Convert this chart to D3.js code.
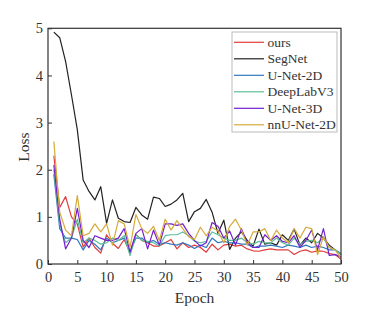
<!DOCTYPE html>
<html><head><meta charset="utf-8">
<script src="https://cdn.jsdelivr.net/npm/d3@7"></script>
<style>
body{margin:0;background:#fff;}
svg text{font-family:"Liberation Serif","Times New Roman",serif;fill:#333;}
</style></head>
<body><svg id="c" width="378" height="320"></svg>
<script>
const epochs = d3.range(1, 51);
const seriesNames = ["ours","SegNet","U-Net-2D","DeepLabV3","U-Net-3D","nnU-Net-2D"];
const colors = ["#e23b3b","#222222","#2f78c0","#5cbf9a","#7420cc","#d6aa38"];
const ours = [2.3,1.2,1.43,1.0,0.85,0.36,0.55,0.35,0.23,0.62,0.44,0.33,0.52,0.24,0.63,0.5,0.45,0.38,0.38,0.45,0.52,0.32,0.45,0.35,0.4,0.35,0.25,0.42,0.3,0.4,0.42,0.38,0.4,0.32,0.28,0.27,0.3,0.32,0.3,0.3,0.3,0.2,0.27,0.3,0.25,0.28,0.27,0.22,0.2,0.1];
const segnet = [4.92,4.8,4.3,3.59,2.85,1.78,1.54,1.36,1.64,0.86,1.36,0.97,0.9,0.88,1.2,1.04,0.95,1.42,1.39,1.22,1.27,1.36,1.5,0.9,1.11,1.18,1.37,1.1,0.65,0.93,0.31,0.55,0.68,0.5,0.38,0.74,0.42,0.45,0.4,0.62,0.5,0.74,0.4,0.55,0.45,0.65,0.55,0.4,0.3,0.2];
const unet2d = [1.9,0.75,0.55,0.55,0.52,0.3,0.5,0.42,0.3,0.55,0.45,0.5,0.55,0.25,0.55,0.55,0.45,0.5,0.42,0.45,0.42,0.4,0.45,0.4,0.33,0.4,0.35,0.55,0.45,0.48,0.45,0.45,0.42,0.42,0.35,0.38,0.38,0.4,0.38,0.35,0.4,0.38,0.35,0.4,0.35,0.38,0.35,0.3,0.3,0.22];
const deeplab = [2.0,0.85,0.45,0.55,0.95,0.45,0.55,0.5,0.42,0.45,0.55,0.5,0.6,0.18,0.62,0.5,0.48,0.45,0.38,0.6,0.62,0.62,0.68,0.6,0.48,0.45,0.48,0.68,0.62,0.55,0.5,0.5,0.55,0.45,0.42,0.48,0.45,0.45,0.55,0.45,0.4,0.55,0.42,0.48,0.5,0.45,0.55,0.35,0.3,0.2];
const unet3d = [2.1,0.95,0.32,0.55,1.18,0.5,0.35,0.6,0.55,0.5,0.5,0.55,0.75,0.25,0.65,0.75,0.32,0.72,0.4,0.85,0.85,0.82,0.85,0.65,0.5,0.38,0.45,0.88,0.8,0.55,0.7,0.4,0.75,0.45,0.35,0.35,0.62,0.5,0.6,0.48,0.45,0.6,0.35,0.5,0.72,0.3,0.75,0.18,0.2,0.15];
const nnunet = [2.6,1.1,0.72,0.6,1.45,0.6,0.65,0.85,0.68,0.85,0.4,0.92,0.85,0.35,1.05,0.75,0.65,0.8,0.5,0.95,0.72,0.92,0.75,0.58,0.52,0.78,0.6,0.78,0.7,0.45,0.8,0.95,0.72,0.4,0.68,0.68,0.75,0.5,0.72,0.55,0.45,0.75,0.55,0.78,0.75,0.2,0.58,0.35,0.3,0.12];
const xTicks = [0,5,10,15,20,25,30,35,40,45,50];
const yTicks = [0,1,2,3,4,5];
const allSeries = [ours, segnet, unet2d, deeplab, unet3d, nnunet];

const svg = d3.select("#c");
const L = 48, R = 341, T = 28.3, B = 264;
const x = d3.scaleLinear().domain([0,50]).range([L,R]);
const y = d3.scaleLinear().domain([0,5]).range([B,T]);

const line = d3.line().x((d,i)=>x(epochs[i])).y(d=>y(d));
allSeries.forEach((s,k)=>{
  svg.append("path").datum(s).attr("d",line).attr("fill","none")
    .attr("stroke",colors[k]).attr("stroke-width",1.2).attr("stroke-linejoin","round");
});

// frame
svg.append("rect").attr("x",L).attr("y",T).attr("width",R-L).attr("height",B-T)
  .attr("fill","none").attr("stroke","#333").attr("stroke-width",1.2);

// x axis
const xa = svg.append("g").attr("transform",`translate(0,${B})`)
  .call(d3.axisBottom(x).tickValues(xTicks).tickSize(-4).tickPadding(8).tickFormat(d3.format("d")));
xa.select(".domain").remove();
xa.selectAll("line").attr("stroke","#333");
xa.selectAll("text").attr("font-size",14.5).attr("fill","#333");

const ya = svg.append("g").attr("transform",`translate(${L},0)`)
  .call(d3.axisLeft(y).tickValues(yTicks).tickSize(-4).tickPadding(5).tickFormat(d3.format("d")));
ya.select(".domain").remove();
ya.selectAll("line").attr("stroke","#333");
ya.selectAll("text").attr("font-size",14.5).attr("fill","#333");

svg.append("text").attr("x",(L+R)/2).attr("y",303).attr("text-anchor","middle")
  .attr("font-size",15.5).text("Epoch");
svg.append("text").attr("transform","translate(29,147) rotate(-90)").attr("text-anchor","middle")
  .attr("font-size",15.5).text("Loss");

// legend
const lg = svg.append("g");
lg.append("rect").attr("x",232).attr("y",32).attr("width",105).attr("height",100)
  .attr("fill","#fff").attr("stroke","#bbb").attr("stroke-width",1);
seriesNames.forEach((n,k)=>{
  const yy = 42.3 + k*16.5;
  lg.append("line").attr("x1",234).attr("x2",264).attr("y1",yy).attr("y2",yy)
    .attr("stroke",colors[k]).attr("stroke-width",1.2);
  lg.append("text").attr("x",267.5).attr("y",yy+4.5).attr("font-size",13.5).text(n);
});
</script></body></html>
